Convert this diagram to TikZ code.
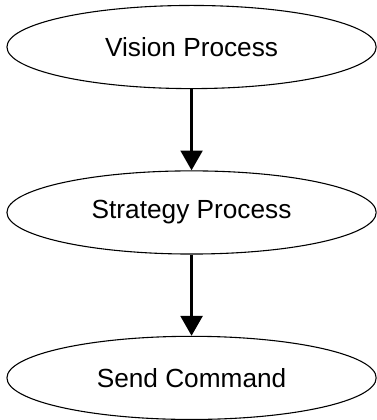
\documentclass[tikz,border=0pt]{standalone}
\usepackage{fontspec}
\setmainfont{Liberation Sans}
\usetikzlibrary{chains,positioning,shapes.geometric,arrows.meta}

\begin{document}
\begin{tikzpicture}[
procnode/.style={
  draw,
  ellipse,
  line width=1.1pt,
  minimum width=373pt,
  minimum height=84pt,
  inner sep=0pt,
  font=\fontsize{26.5}{30}\selectfont
  },
flowarrow/.style={
  line width=3pt,
  -{Triangle[width=22pt,length=20pt]}
  },
node distance=82pt,
start chain=going below
]
\foreach \Name/\Text in {vis/Vision Process,str/Strategy Process,snd/Send Command}
  \node[procnode,on chain] (\Name) {\Text};
\path[flowarrow]
  (vis) edge (str)
  (str) edge (snd);
\useasboundingbox ([xshift=-193.5pt,yshift=47.5pt]vis.center) rectangle ++(380pt,-420pt);
\end{tikzpicture}
\end{document}
